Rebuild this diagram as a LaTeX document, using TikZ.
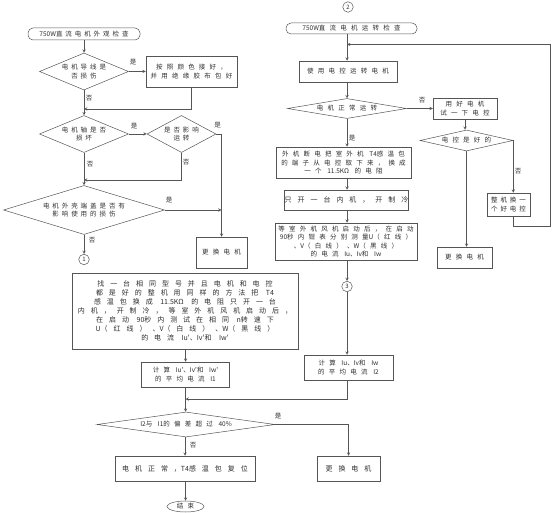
\documentclass[tikz,border=0pt]{standalone}
\usepackage{fontspec}
\setmainfont{Noto Sans CJK SC}
\newfontfamily\cjkfa[LetterSpace=45]{Noto Sans CJK SC}
\newfontfamily\cjkfb[LetterSpace=65]{Noto Sans CJK SC}
\newfontfamily\cjkfc[LetterSpace=85]{Noto Sans CJK SC}
\newfontfamily\latf{Noto Sans CJK SC}
\newcommand\fnta{\cjkfa\fontsize{6.5}{8.5}\selectfont}
\newcommand\fntb{\cjkfb\fontsize{6.5}{8.5}\selectfont}
\newcommand\fntc{\cjkfc\fontsize{7}{9}\selectfont}
\newcommand\la[1]{{\latf #1}}
\usetikzlibrary{shapes.geometric}
\definecolor{ln}{HTML}{555555}
\definecolor{txt}{HTML}{2E2E2E}
\begin{document}
\begin{tikzpicture}[>=stealth, x=1pt, y=-1pt, line width=0.5pt, draw=ln,
  box/.style={draw=ln, fill=white, text=txt, inner sep=0pt, align=center, font=\fntb},
  dia/.style={draw=ln, diamond, text=txt, inner sep=0pt, align=center, font=\fnta},
  term/.style={draw=ln, rounded corners=5pt, text=txt, inner sep=0pt, font=\fnta},
  conn/.style={draw=ln, circle, text=txt, inner sep=0pt, minimum size=10.5pt, font=\fontsize{6}{6}\selectfont},
  lbl/.style={text=txt, inner sep=0pt, font=\fontsize{6.5}{7}\selectfont}]
\useasboundingbox (0,0) rectangle (554,513);
% left column: outside check
\node[term, minimum width=112pt, minimum height=12pt] (t1) at (84,34) {\la{750W}直流电机外观检查};
\node[dia, aspect=2.4, minimum width=89pt, minimum height=37pt] (d1) at (84,71.5) {电机导线是\\否损伤};
\node[box, minimum width=91pt, minimum height=31pt] (b1) at (191.5,71.5) {按照颜色接好，\\并用绝缘胶布包好};
\node[dia, aspect=2.4, minimum width=89pt, minimum height=37pt] (d2) at (84,134) {电机轴是否\\损坏};
\node[dia, aspect=1.86, minimum width=69pt, minimum height=37pt] (d3) at (181.5,134) {是否影响\\运转};
\node[dia, aspect=3.3, minimum width=161pt, minimum height=49pt] (d4) at (84,210) {电机外壳端盖是否有\\影响使用的损伤};
\node[conn] (c1) at (84,259.5) {1};
\node[box, minimum width=51pt, minimum height=31pt] (b2) at (221.5,252.5) {更换电机};
\node[box, font=\fntc, minimum width=226pt, minimum height=76pt] (b3) at (185,311) {找一台相同型号并且电机和电控\\都是好的整机用同样的方法把 \la{T4}\\感温包换成 \la{11.5KΩ} 的电阻只开一台\\内机，开制冷，等室外机风机启动后，\\在启动 \la{90}秒内测试在相同 \la{n}转速下\\\la{U}（红线）、\la{V}（白线）、\la{W}（黑线）\\的电流 \la{Iu'}、\la{Iv'}和 \la{Iw'}};
\node[box, minimum width=88pt, minimum height=25pt] (b4) at (185.5,374.5) {计算 \la{Iu'}、\la{Iv'}和 \la{Iw'}\\的平均电流 \la{I1}};
\node[dia, font=\fntb, aspect=7.2, minimum width=178pt, minimum height=25pt] (d5) at (186,424.5) {\la{I2}与 \la{I1}的偏差超过 \la{40\%}};
\node[box, font=\fntc, minimum width=140pt, minimum height=25pt] (b5) at (185,468.5) {电机正常，\la{T4}感温包复位};
\node[draw=ln, ellipse, text=txt, inner sep=0pt, minimum width=37pt, minimum height=11pt, font=\fntb] (stop) at (185.5,506.5) {结束};
\node[box, font=\fntc, minimum width=63pt, minimum height=25pt] (b6) at (348.5,468.5) {更换电机};
% right column: running check
\node[conn] (c2) at (348,7) {2};
\node[term, font=\fntb, minimum width=131pt, minimum height=11pt] (t2) at (351.5,28.5) {\la{750W}直流电机运转检查};
\node[box, minimum width=98pt, minimum height=21pt] (b7) at (348,71.5) {使用电控运转电机};
\node[dia, font=\fntb, aspect=6, minimum width=119pt, minimum height=20pt] (d6) at (347,108.5) {电机正常运转};
\node[box, minimum width=64pt, minimum height=21pt] (b8) at (465,108.5) {用好电机\\试一下电控};
\node[dia, font=\fntb, aspect=4.4, minimum width=93pt, minimum height=21pt] (d7) at (466.5,140.5) {电控是好的};
\node[box, font=\fnta, minimum width=43pt, minimum height=23pt] (b10) at (508.5,204.5) {整机换一\\个好电控};
\node[box, minimum width=55pt, minimum height=21pt] (b9) at (464.5,257.5) {更换电机};
\node[box, minimum width=135pt, minimum height=31pt] (b11) at (343.5,162.5) {外机断电把室外机 \la{T4}感温包\\的端子从电控取下来，换成\\一个 \la{11.5KΩ} 的电阻};
\node[box, font=\fntc, minimum width=111pt, minimum height=20pt] (b12) at (346.5,200) {只开一台内机，开制冷};
\node[box, minimum width=142pt, minimum height=37pt] (b13) at (346,241.5) {等室外机风机启动后，在启动\\\la{90}秒内钳表分别测量\la{U}（红线）\\、\la{V}（白线）、\la{W}（黑线）\\的电流 \la{Iu}、\la{Iv}和 \la{Iw}};
\node[conn] (c3) at (347,286.5) {3};
\node[box, minimum width=89pt, minimum height=25pt] (b14) at (348.5,367.5) {计算 \la{Iu}、\la{Iv}和 \la{Iw}\\的平均电流 \la{I2}};
% junctions
\coordinate (j1) at (84,109);
\coordinate (j2) at (84,180);
\coordinate (j4) at (185.5,399);
\coordinate (j5) at (347,44.5);
\coordinate (k1) at (550,226);
% left connectors
\draw[->] (t1) -- (d1);
\draw[->] (d1) -- (b1);
\draw[->] (b1.south) |- (j1);
\draw[->] (d1) -- (d2);
\draw[->] (d2) -- (d3);
\draw[->] (d3.east) -| (b2.north);
\draw[->] (d3.south) |- (j2);
\draw[->] (d2) -- (d4);
\draw[->] (d4.east) -- (d4.east -| b2.north);
\draw[->] (d4) -- (c1);
\draw[->] (b3.south -| b4.north) -- (b4.north);
\draw[->] (b4) -- (b4 |- d5.north);
\draw[->] (d5.south -| b5.north) -- (b5.north);
\draw[->] (b5.south -| stop.north) -- (stop.north);
\draw[->] (d5.east) -| (b6.north);
\draw[->] (b14.south -| j5) |- (j4);
% right connectors
\draw[->] (t2.south -| j5) -- (j5 |- b7.north);
\draw[->] (j5 |- b7.south) -- (j5 |- d6.north);
\draw[->] (d6) -- (b8);
\draw[->] (b8.south) -- (b8.south |- d7.north);
\draw[->] (d7.south) -- (d7.south |- b9.north);
\draw[->] (d7.east) -- (d7.east |- b10.north);
\draw[->] (d7.east |- b10.south) |- (k1) |- (j5);
\draw[->] (d6.south) -- (d6.south |- b11.north);
\draw[->] (j5 |- b11.south) -- (j5 |- b12.north);
\draw[->] (j5 |- b12.south) -- (j5 |- b13.north);
\draw[->] (j5 |- b13.south) -- (c3);
\draw[->] (c3) -- (c3 |- b14.north);
% yes / no labels
\node[lbl] (y1) at (133,62) {是};
\node[lbl] (n1) at (89,98.5) {否};
\node[lbl] (y2) at (134,126) {是};
\node[lbl] (y3) at (217.5,125) {是};
\node[lbl] (n2) at (90,164) {否};
\node[lbl] (n3) at (186,162) {否};
\node[lbl] (y4) at (169,200) {是};
\node[lbl] (n4) at (92,240) {否};
\node[lbl] (y5) at (278,416.5) {是};
\node[lbl] (n5) at (193,445) {否};
\node[lbl] (n6) at (422,100) {否};
\node[lbl] (y6) at (352,138) {是};
\node[lbl] (n7) at (518,171) {否};
\end{tikzpicture}
\end{document}
